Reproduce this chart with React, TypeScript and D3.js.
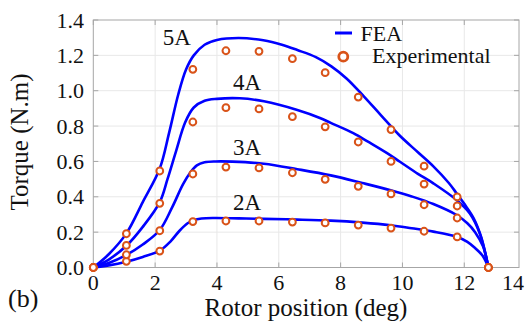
import React from "react";
import * as d3 from "d3";

// ---------- data ----------
const xTicks = [0, 2, 4, 6, 8, 10, 12, 14];
const yTicks = [0, 0.2, 0.4, 0.6, 0.8, 1.0, 1.2, 1.4];

const currents = ["2A", "3A", "4A", "5A"];

// FEA curves: [rotor position (deg), torque (N.m)]
const fea2A: [number, number][] = [
  [0, 0], [0.5, 0.012], [1.07, 0.033], [1.6, 0.06], [2.15, 0.095], [2.5, 0.148], [2.79, 0.208],
  [3.05, 0.25], [3.25, 0.268], [3.5, 0.277], [3.9, 0.28], [4.7, 0.278], [5.52, 0.275],
  [6.6, 0.271], [7.68, 0.265], [8.7, 0.254], [9.62, 0.239], [10.3, 0.222], [11.0, 0.203],
  [11.75, 0.174], [12.1, 0.145], [12.35, 0.11], [12.6, 0.065], [12.78, 0],
];
const fea3A: [number, number][] = [
  [0, 0], [0.5, 0.025], [1.07, 0.071], [1.6, 0.13], [2.15, 0.212], [2.55, 0.34], [2.9, 0.47],
  [3.15, 0.54], [3.35, 0.578], [3.6, 0.595], [3.95, 0.6], [4.5, 0.599], [5.52, 0.587],
  [6.6, 0.556], [7.68, 0.521], [8.7, 0.478], [9.62, 0.437], [10.3, 0.402], [11.0, 0.359],
  [11.75, 0.297], [12.1, 0.25], [12.35, 0.2], [12.61, 0.118], [12.78, 0],
];
const fea4A: [number, number][] = [
  [0, 0], [0.5, 0.045], [1.07, 0.123], [1.6, 0.23], [2.15, 0.37], [2.4, 0.5], [2.68, 0.66],
  [2.97, 0.82], [3.25, 0.905], [3.6, 0.943], [4.0, 0.954], [4.74, 0.957], [5.52, 0.94],
  [6.6, 0.891], [7.33, 0.846], [7.68, 0.818], [8.41, 0.76], [8.9, 0.71], [9.49, 0.648],
  [9.92, 0.598], [10.5, 0.53], [11.0, 0.476], [11.75, 0.382], [12.18, 0.306], [12.5, 0.193],
  [12.78, 0],
];
const fea5A: [number, number][] = [
  [0, 0], [0.5, 0.075], [1.07, 0.193], [1.6, 0.37], [2.15, 0.56], [2.45, 0.76], [2.75, 0.98],
  [3.0, 1.12], [3.25, 1.2], [3.6, 1.26], [4.0, 1.287], [4.7, 1.298], [5.5, 1.285],
  [6.1, 1.26], [6.6, 1.23], [7.2, 1.19], [7.7, 1.138], [8.2, 1.068], [8.75, 0.968],
  [9.3, 0.862], [9.9, 0.748], [10.5, 0.652], [11.0, 0.572], [11.5, 0.478], [11.75, 0.42],
  [12.0, 0.36], [12.3, 0.28], [12.55, 0.17], [12.78, 0],
];

// Experimental measurements
const expX = [0, 1.07, 2.15, 3.22, 4.29, 5.36, 6.44, 7.5, 8.57, 9.63, 10.7, 11.77, 12.78];
const exp2A = [0, 0.035, 0.093, 0.26, 0.263, 0.263, 0.257, 0.252, 0.24, 0.223, 0.205, 0.173, 0];
const exp3A = [0, 0.072, 0.208, 0.529, 0.568, 0.563, 0.536, 0.499, 0.459, 0.416, 0.355, 0.28, 0];
const exp4A = [0, 0.125, 0.363, 0.823, 0.904, 0.897, 0.853, 0.796, 0.71, 0.6, 0.472, 0.348, 0];
const exp5A = [0, 0.191, 0.546, 1.121, 1.226, 1.223, 1.181, 1.102, 0.964, 0.78, 0.573, 0.399, 0];

// label anchor positions (data coords)
const labelPos: [number, number][] = [[4.52, 0.325], [4.52, 0.636], [4.52, 1.004], [2.25, 1.258]];

const feaSeries = [fea2A, fea3A, fea4A, fea5A];
const expSeries = [exp2A, exp3A, exp4A, exp5A];

// ---------- layout ----------
const W = 528, H = 324;
const left = 93.3, right = 519, top = 20, bottom = 267.5;
const FONT = "Liberation Serif";
const BLUE = "#0000ff";
const ORANGE = "#d95319";
const TXT = "#111";

export default function App() {
  const x = d3.scaleLinear().domain([0, 13.77]).range([left, right]);
  const y = d3.scaleLinear().domain([0, 1.4]).range([bottom, top]);
  const line = d3
    .line<[number, number]>()
    .x((d) => x(d[0]))
    .y((d) => y(d[1]))
    .curve(d3.curveCatmullRom.alpha(0.5));

  const tickLen = 5;
  return (
    <svg width={W} height={H} style={{ position: "absolute", left: 0, top: 0, background: "#fff" }}>
      <rect x={0} y={0} width={W} height={H} fill="#fff" />
      {/* grid */}
      {xTicks.filter((t) => x(t) < right - 1 && t > 0).map((t) => (
        <line key={"gx" + t} x1={x(t)} x2={x(t)} y1={top} y2={bottom} stroke="#e8e8e8" strokeWidth={1} />
      ))}
      {yTicks.filter((t) => t > 0 && t < 1.4).map((t) => (
        <line key={"gy" + t} x1={left} x2={right} y1={y(t)} y2={y(t)} stroke="#e8e8e8" strokeWidth={1} />
      ))}
      {/* ticks */}
      {xTicks.filter((t) => x(t) < right - 1).map((t) => (
        <g key={"tx" + t}>
          <line x1={x(t)} x2={x(t)} y1={bottom} y2={bottom - tickLen} stroke="#a6a6a6" />
          <line x1={x(t)} x2={x(t)} y1={top} y2={top + tickLen} stroke="#a6a6a6" />
        </g>
      ))}
      {yTicks.map((t) => (
        <g key={"ty" + t}>
          <line x1={left} x2={left + tickLen} y1={y(t)} y2={y(t)} stroke="#a6a6a6" />
          <line x1={right} x2={right - tickLen} y1={y(t)} y2={y(t)} stroke="#a6a6a6" />
        </g>
      ))}
      {/* box */}
      <rect x={left} y={top} width={right - left} height={bottom - top} fill="none" stroke="#a6a6a6" strokeWidth={1} />

      {/* FEA curves */}
      {feaSeries.map((s, i) => (
        <path key={"f" + i} d={line(s) || ""} fill="none" stroke={BLUE} strokeWidth={2.6} />
      ))}
      {/* Experimental markers */}
      {expSeries.map((s, i) =>
        s.map((v, j) => (
          <circle key={"e" + i + "-" + j} cx={x(expX[j])} cy={y(v)} r={3.4} fill="#fff" stroke={ORANGE} strokeWidth={2} />
        ))
      )}

      {/* curve labels */}
      {currents.map((c, i) => (
        <text key={"l" + c} x={x(labelPos[i][0])} y={y(labelPos[i][1])} fontFamily={FONT} fontSize={23} fill={TXT}>
          {c}
        </text>
      ))}

      {/* tick labels */}
      {xTicks.map((t) => (
        <text key={"xl" + t} x={Math.min(x(t), right - 6)} y={290} textAnchor="middle" fontFamily={FONT} fontSize={22} fill={TXT}>
          {t}
        </text>
      ))}
      {yTicks.map((t) => (
        <text key={"yl" + t} x={84} y={y(t)} dy="0.35em" textAnchor="end" fontFamily={FONT} fontSize={22} fill={TXT}>
          {t.toFixed(1)}
        </text>
      ))}

      {/* axis titles */}
      <text x={306} y={316} textAnchor="middle" fontFamily={FONT} fontSize={25} fill={TXT}>
        Rotor position (deg)
      </text>
      <text transform="translate(28,142) rotate(-90)" textAnchor="middle" fontFamily={FONT} fontSize={25} fill={TXT}>
        Torque (N.m)
      </text>
      <text x={8} y={307} fontFamily={FONT} fontSize={26} fill={TXT}>
        (b)
      </text>

      {/* legend */}
      <line x1={335} x2={352} y1={33} y2={33} stroke={BLUE} strokeWidth={3} />
      <text x={360.5} y={40.7} fontFamily={FONT} fontSize={22} fill={TXT}>FEA</text>
      <circle cx={343.3} cy={56.7} r={4.5} fill="#fff" stroke={ORANGE} strokeWidth={2.8} />
      <text x={372} y={63} fontFamily={FONT} fontSize={22} fill={TXT}>Experimental</text>
    </svg>
  );
}
